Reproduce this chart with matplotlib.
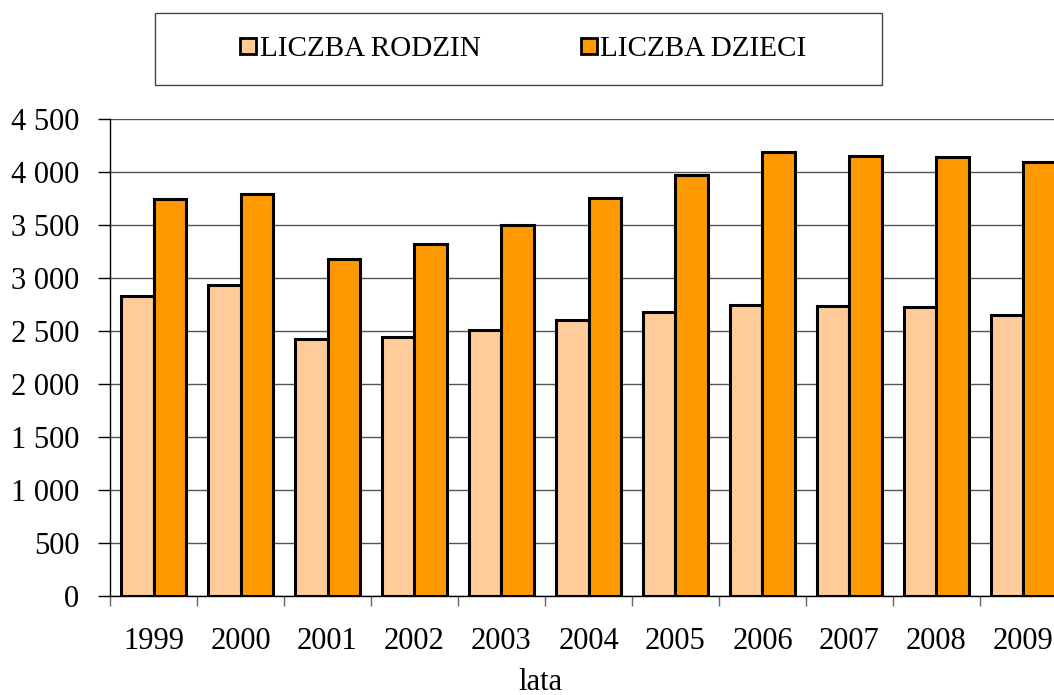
import matplotlib.pyplot as plt
import numpy as np
from matplotlib.lines import Line2D
from matplotlib.patches import Rectangle

plt.rcParams['font.family'] = ['Liberation Serif', 'DejaVu Serif']

# dane
lata = ['1999', '2000', '2001', '2002', '2003', '2004', '2005', '2006', '2007', '2008', '2009']
liczba_rodzin = [2830, 2935, 2420, 2445, 2505, 2600, 2678, 2745, 2738, 2730, 2648]
liczba_dzieci = [3745, 3795, 3180, 3320, 3500, 3755, 3975, 4190, 4150, 4138, 4095]

kolor_rodzin = '#FFCC99'
kolor_dzieci = '#FF9900'

fig = plt.figure(figsize=(10.54, 6.95), dpi=100)
# os wychodzi poza prawa krawedz, jak w oryginale
ax = fig.add_axes([110 / 1054, 99 / 695, 957 / 1054, 477 / 695])

x = np.arange(len(lata))
w = 0.375
ax.bar(x - w / 2, liczba_rodzin, w, color=kolor_rodzin, edgecolor='black', linewidth=2.2, zorder=3)
ax.bar(x + w / 2, liczba_dzieci, w, color=kolor_dzieci, edgecolor='black', linewidth=2.2, zorder=3)

ax.set_xlim(-0.5, len(lata) - 0.5)
ax.set_ylim(0, 4500)
ax.set_yticks(np.arange(0, 4501, 500))
ax.set_yticklabels([f'{v:,}'.replace(',', ' ') for v in range(0, 4501, 500)])
ax.yaxis.grid(True, color='#555555', linewidth=1, zorder=0)
ax.set_axisbelow(True)

ax.set_xticks(x)
ax.set_xticklabels(lata)
ax.set_xticks(np.arange(-0.5, len(lata), 1), minor=True)
ax.tick_params(axis='x', which='major', length=0, pad=22, labelsize=22)
ax.tick_params(axis='x', which='minor', length=7, width=1, color='#666666')
ax.tick_params(axis='y', length=9, width=1, labelsize=22, pad=13)

for s in ['top', 'right']:
    ax.spines[s].set_visible(False)
ax.spines['left'].set_linewidth(1)
ax.spines['bottom'].set_linewidth(1)

fig.text(540 / 1054, 1 - 690 / 695, 'lata', ha='center', va='baseline', fontsize=22)

# legenda w ramce
fig.patches.append(Rectangle((155 / 1054, 1 - 85 / 695), 727 / 1054, 72 / 695,
                             transform=fig.transFigure, facecolor='white',
                             edgecolor='#444444', linewidth=1))
uchwyty = [
    Line2D([], [], marker='s', linestyle='none', markersize=12, markerfacecolor=kolor_rodzin,
           markeredgecolor='black', markeredgewidth=2),
    Line2D([], [], marker='s', linestyle='none', markersize=12, markerfacecolor=kolor_dzieci,
           markeredgecolor='black', markeredgewidth=2),
]
fig.legend(uchwyty, ['LICZBA RODZIN', 'LICZBA DZIECI'], loc='center',
           bbox_to_anchor=(523 / 1054, 1 - 49 / 695), ncol=2, frameon=False,
           fontsize=21, handlelength=0.6, handletextpad=0.1, columnspacing=3.4)

fig.savefig('out.png', dpi=100)
